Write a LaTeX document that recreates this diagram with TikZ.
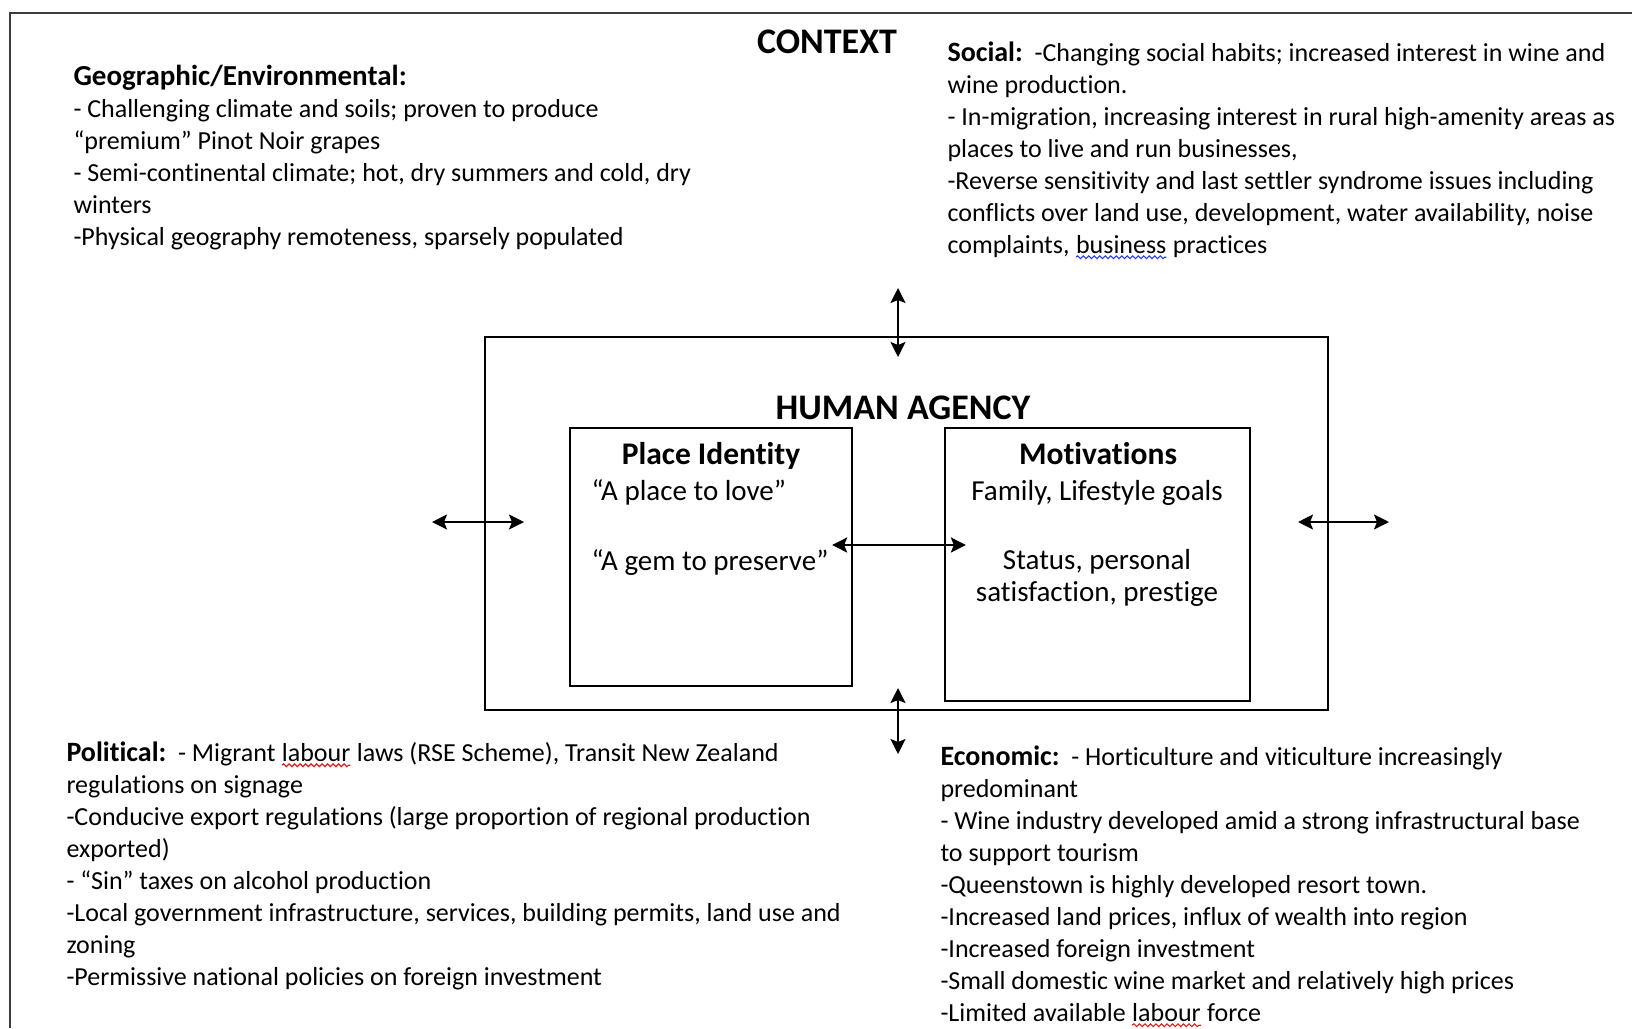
\documentclass[tikz,border=0pt]{standalone}
\usepackage{fontspec}
\setmainfont{Carlito}[Ligatures=NoCommon]
\usepackage{tikz}
\usetikzlibrary{arrows.meta,positioning,calc,decorations.pathmorphing}
\definecolor{framegray}{RGB}{60,60,60}
\definecolor{spellred}{RGB}{220,30,30}
\definecolor{spellblue}{RGB}{40,60,230}

% bold lead-in of a context block
\newcommand{\lead}[1]{{\fontsize{11.2}{12.8}\selectfont\bfseries #1}}

% wavy spell-check mark under a word
\newcommand{\spellmark}[2]{\tikz[baseline=(sw.base)]{%
  \node[inner sep=0pt, outer sep=0pt, anchor=base] (sw) {#2};
  \draw[#1, line width=0.45pt, decorate,
        decoration={snake, amplitude=0.55pt, segment length=2.2pt}]
        ([yshift=-1.6pt]sw.south west) -- ([yshift=-1.6pt]sw.south east);}}

\begin{document}
\begin{tikzpicture}[
    x=0.4pt, y=-0.4pt,
    body/.style={font=\fontsize{10.4}{12.8}\selectfont, inner sep=0pt, align=left, anchor=base west},
    heading/.style={font=\fontsize{14.4}{16}\selectfont\bfseries, inner sep=0pt, anchor=base},
    boxtitle/.style={font=\fontsize{12.6}{15}\selectfont\bfseries, inner sep=0pt, anchor=base},
    boxline/.style={font=\fontsize{11.6}{12.8}\selectfont, inner sep=0pt},
    panel/.style={draw, line width=0.9pt, rectangle, inner sep=0pt},
    dblarrow/.style={{Stealth[length=6pt,width=6pt,inset=1.2pt]}-{Stealth[length=6pt,width=6pt,inset=1.2pt]}, line width=0.9pt}
]
\useasboundingbox (0,0) rectangle (1632,1028);

% outer frame (open on the right and bottom)
\draw[framegray, line width=0.9pt] (1632,13) -- (10,13) -- (10,1028);

% Context (multi-line nodes sit on the baseline of their last line)
\node[heading] (context) at (827,53) {CONTEXT};

\node[body] (geo) at (73,245) {{\fontsize{11.6}{12.8}\selectfont\bfseries Geographic/Environmental:}\\
- Challenging climate and soils; proven to produce\\
“premium” Pinot Noir grapes\\
- Semi-continental climate; hot, dry summers and cold, dry\\
winters\\
-Physical geography remoteness, sparsely populated};

\node[body] (social) at (947,253) {\lead{Social:}\ \ -Changing social habits; increased interest in wine and\\
wine production.\\
- In-migration, increasing interest in rural high-amenity areas as\\
places to live and run businesses,\\
-Reverse sensitivity and last settler syndrome issues including\\
conflicts over land use, development, water availability, noise\\
complaints, \spellmark{spellblue}{business} practices};

\node[body] (political) at (66,985) {\lead{Political:}\ \ - Migrant \spellmark{spellred}{labour} laws (RSE Scheme), Transit New Zealand\\
regulations on signage\\
-Conducive export regulations (large proportion of regional production\\
exported)\\
- “Sin” taxes on alcohol production\\
-Local government infrastructure, services, building permits, land use and\\
zoning\\
-Permissive national policies on foreign investment};

\node[body] (economic) at (940,1021) {\lead{Economic:}\ \ - Horticulture and viticulture increasingly\\
predominant\\
- Wine industry developed amid a strong infrastructural base\\
to support tourism\\
-Queenstown is highly developed resort town.\\
-Increased land prices, influx of wealth into region\\
-Increased foreign investment\\
-Small domestic wine market and relatively high prices\\
-Limited available \spellmark{spellred}{labour} force};

% Human agency
\node[panel, minimum width=337.2pt, minimum height=149.2pt] (agency) at (906.5,523.5) {};
\node[heading] (agencytitle) at (903,419) {HUMAN AGENCY};

\node[panel, minimum width=112.8pt, minimum height=103.2pt] (place) at (711,557) {};
\node[boxtitle] (placetitle) at (711,464) {Place Identity};
\node[boxline, anchor=base west] (love) at (591,500) {“A place to love”};
\node[boxline, anchor=base west] (gem) at (591,570) {“A gem to preserve”};

\node[panel, minimum width=122pt, minimum height=109.2pt] (motiv) at (1097.5,564.5) {};
\node[boxtitle] (motivtitle) at (1098,464) {Motivations};
\node[boxline, anchor=base] (family) at (1097,500) {Family, Lifestyle goals};
\node[boxline, anchor=base, align=center] (status) at (1097,601) {Status, personal\\ satisfaction, prestige};

% arrows
\coordinate (topout) at (898,288);
\coordinate (topin) at (898,357);
\coordinate (botin) at (898,688);
\coordinate (botout) at (898,754);
\coordinate (leftout) at (432,522);
\coordinate (leftin) at (524,522);
\coordinate (rightin) at (1298,522);
\coordinate (rightout) at (1389,522);

\draw[dblarrow] (topout) -- (topin);
\draw[dblarrow] (botin) -- (botout);
\draw[dblarrow] (leftout) -- (leftin);
\draw[dblarrow] (rightin) -- (rightout);
\draw[dblarrow, shorten <=-8.4pt, shorten >=-8.8pt] (place.east |- 0,545) -- (motiv.west |- 0,545);

\end{tikzpicture}
\end{document}
